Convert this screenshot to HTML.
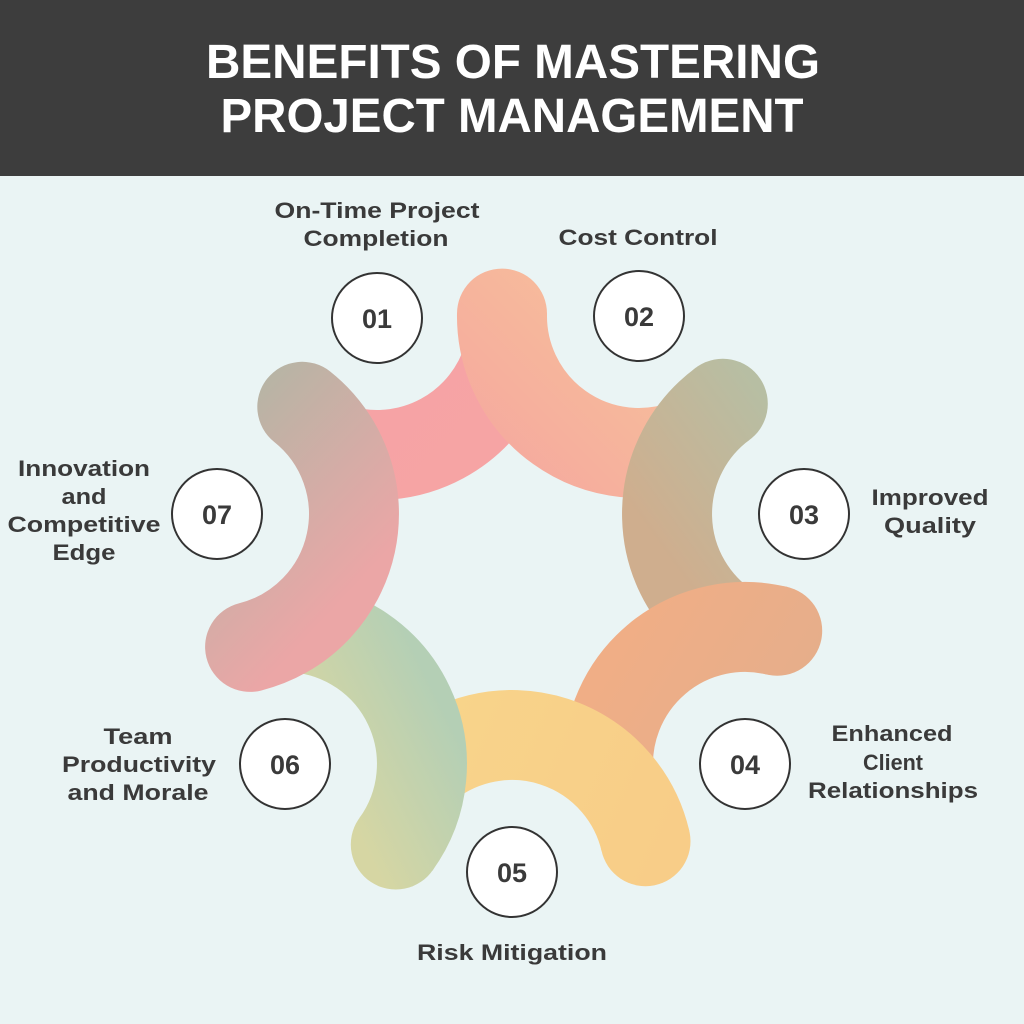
<!DOCTYPE html>
<html><head><meta charset="utf-8"><style>
html,body{margin:0;padding:0;}
body{width:1024px;height:1024px;overflow:hidden;background:#eaf4f4;}
svg{display:block;}
</style></head><body>
<svg width="1024" height="1024" viewBox="0 0 1024 1024" xmlns="http://www.w3.org/2000/svg">
<defs>
<linearGradient id="g1" gradientUnits="userSpaceOnUse" x1="300" y1="300" x2="500" y2="480"><stop offset="0" stop-color="#f6a2a6"/><stop offset="1" stop-color="#f6a4a4"/></linearGradient>
<linearGradient id="g2" gradientUnits="userSpaceOnUse" x1="700" y1="300" x2="520" y2="480"><stop offset="0" stop-color="#f8c49a"/><stop offset="1" stop-color="#f5aa9e"/></linearGradient>
<linearGradient id="g3" gradientUnits="userSpaceOnUse" x1="640" y1="520" x2="780" y2="420"><stop offset="0" stop-color="#cfae8e"/><stop offset="1" stop-color="#b7bea3"/></linearGradient>
<linearGradient id="g4" gradientUnits="userSpaceOnUse" x1="620" y1="640" x2="820" y2="760"><stop offset="0" stop-color="#f0ae86"/><stop offset="1" stop-color="#e3ae8c"/></linearGradient>
<linearGradient id="g5" gradientUnits="userSpaceOnUse" x1="420" y1="760" x2="660" y2="860"><stop offset="0" stop-color="#f8d48a"/><stop offset="1" stop-color="#f8cd88"/></linearGradient>
<linearGradient id="g6" gradientUnits="userSpaceOnUse" x1="320" y1="760" x2="440" y2="700"><stop offset="0" stop-color="#d6d6a3"/><stop offset="1" stop-color="#b4cfb5"/></linearGradient>
<linearGradient id="g7" gradientUnits="userSpaceOnUse" x1="230" y1="420" x2="380" y2="560"><stop offset="0" stop-color="#b8b4a5"/><stop offset="1" stop-color="#eba6a6"/></linearGradient>
</defs>
<rect x="0" y="0" width="1024" height="176" fill="#3d3d3d"/>
<g font-family="Liberation Sans, sans-serif" font-weight="bold" fill="#ffffff" font-size="48" text-anchor="middle">
<text x="513" y="78" textLength="614" lengthAdjust="spacingAndGlyphs">BENEFITS OF MASTERING</text>
<text x="512" y="132" textLength="583" lengthAdjust="spacingAndGlyphs">PROJECT MANAGEMENT</text>
</g>
<g fill="none" stroke-width="90" stroke-linecap="butt">
<path d="M508.3,357.1 A137,137 0 0 1 337.9,449.3" stroke="url(#g1)"/>
<path d="M685.9,444.7 A137,137 0 0 1 502,313.6" stroke="url(#g2)"/>
<circle cx="502" cy="313.6" r="45" fill="url(#g2)" stroke="none"/>
<path d="M728.2,628.1 A137,137 0 0 1 722.8,403.7" stroke="url(#g3)"/>
<circle cx="722.8" cy="403.7" r="45" fill="url(#g3)" stroke="none"/>
<path d="M608.4,774.7 A137,137 0 0 1 777.2,630.8" stroke="url(#g4)"/>
<circle cx="777.2" cy="630.8" r="45" fill="url(#g4)" stroke="none"/>
<path d="M421.9,768.8 A137,137 0 0 1 645.5,841.2" stroke="url(#g5)"/>
<circle cx="645.5" cy="841.2" r="45" fill="url(#g5)" stroke="none"/>
<path d="M294,627.3 A137,137 0 0 1 395.8,844.5" stroke="url(#g6)"/>
<circle cx="395.8" cy="844.5" r="45" fill="url(#g6)" stroke="none"/>
<path d="M302.3,406.8 A137,137 0 0 1 250.1,646.9" stroke="url(#g7)" stroke-linecap="round"/>
</g>
<g fill="#ffffff" stroke="#333333" stroke-width="2">
<circle cx="377" cy="318" r="45"/><circle cx="639" cy="316" r="45"/><circle cx="804" cy="514" r="45"/>
<circle cx="745" cy="764" r="45"/><circle cx="512" cy="872" r="45"/><circle cx="285" cy="764" r="45"/>
<circle cx="217" cy="514" r="45"/>
</g>
<g font-family="Liberation Sans, sans-serif" font-weight="bold" fill="#3a3a3a" font-size="27" text-anchor="middle">
<text x="377" y="328">01</text><text x="639" y="326">02</text><text x="804" y="524">03</text>
<text x="745" y="774">04</text><text x="512" y="882">05</text><text x="285" y="774">06</text>
<text x="217" y="524">07</text>
</g>
<g font-family="Liberation Sans, sans-serif" font-weight="bold" fill="#3a3a3a" font-size="22" text-anchor="middle">
<text x="377" y="218" textLength="205" lengthAdjust="spacingAndGlyphs">On-Time Project</text>
<text x="376" y="246" textLength="145" lengthAdjust="spacingAndGlyphs">Completion</text>
<text x="638" y="245" textLength="159" lengthAdjust="spacingAndGlyphs">Cost Control</text>
<text x="930" y="505" textLength="117" lengthAdjust="spacingAndGlyphs">Improved</text>
<text x="930" y="533" textLength="92" lengthAdjust="spacingAndGlyphs">Quality</text>
<text x="892" y="741" textLength="121" lengthAdjust="spacingAndGlyphs">Enhanced</text>
<text x="893" y="770" textLength="60" lengthAdjust="spacingAndGlyphs">Client</text>
<text x="893" y="798" textLength="170" lengthAdjust="spacingAndGlyphs">Relationships</text>
<text x="512" y="960" textLength="190" lengthAdjust="spacingAndGlyphs">Risk Mitigation</text>
<text x="138" y="744" textLength="69" lengthAdjust="spacingAndGlyphs">Team</text>
<text x="139" y="772" textLength="154" lengthAdjust="spacingAndGlyphs">Productivity</text>
<text x="138" y="800" textLength="141" lengthAdjust="spacingAndGlyphs">and Morale</text>
<text x="84" y="476" textLength="132" lengthAdjust="spacingAndGlyphs">Innovation</text>
<text x="84" y="504" textLength="45" lengthAdjust="spacingAndGlyphs">and</text>
<text x="84" y="532" textLength="153" lengthAdjust="spacingAndGlyphs">Competitive</text>
<text x="84" y="560" textLength="63" lengthAdjust="spacingAndGlyphs">Edge</text>
</g>
</svg>
</body></html>
